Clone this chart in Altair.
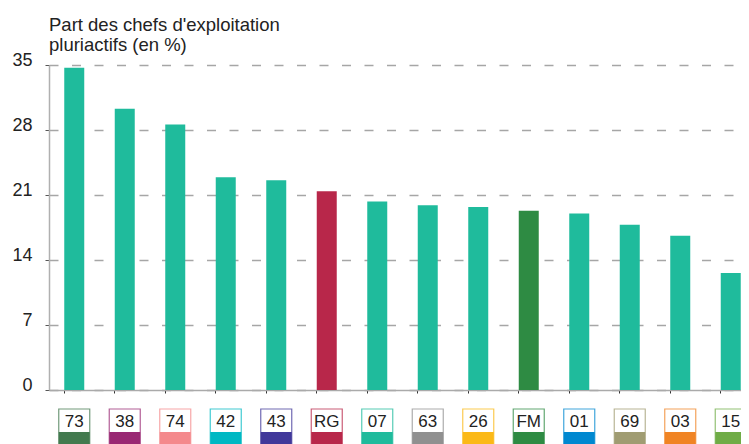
import altair as alt
import pandas as pd

codes = ["73", "38", "74", "42", "43", "RG", "07", "63", "26", "FM", "01", "69", "03", "15"]
values = [34.7, 30.3, 28.6, 22.9, 22.6, 21.4, 20.3, 19.9, 19.7, 19.3, 19.0, 17.8, 16.6, 12.6]
bar_colors = ["#1fbb9c", "#1fbb9c", "#1fbb9c", "#1fbb9c", "#1fbb9c", "#b8274a", "#1fbb9c",
              "#1fbb9c", "#1fbb9c", "#2e8b43", "#1fbb9c", "#1fbb9c", "#1fbb9c", "#1fbb9c"]
stripe_colors = ["#437a4f", "#992873", "#f4898c", "#00b8c3", "#41389a", "#b8274a", "#1fbb9c",
                 "#909090", "#fbb917", "#2e8b43", "#0088d0", "#a09c72", "#f08424", "#6fac46"]
y_ticks = [0, 7, 14, 21, 28, 35]
title_lines = ["Part des chefs d'exploitation", "pluriactifs (en %)"]

df = pd.DataFrame({"code": codes, "value": values, "bar": bar_colors, "stripe": stripe_colors})

FONT = "Liberation Sans"
H = 325

x_enc = alt.X(
    "code:N", sort=codes,
    scale=alt.Scale(range=[0, 707], paddingInner=0.604, paddingOuter=0.302),
    axis=alt.Axis(title=None, labels=False, bandPosition=0, tickSize=3, tickColor="#333",
                  tickWidth=1, domainColor="#aaaaaa", domainWidth=1.5, grid=False),
)

bars = alt.Chart(df).mark_bar().encode(
    x=x_enc,
    y=alt.Y("value:Q", scale=alt.Scale(domain=[0, 35], nice=False),
            axis=alt.Axis(title=None, values=y_ticks, grid=True, gridDash=[9, 13.5],
                          gridColor="#a6a6a6", gridWidth=1.5, domainColor="#b0b0b0",
                          domainWidth=1.5, tickSize=4, tickColor="#555", labelFont=FONT,
                          labelFontSize=18, labelColor="#222", labelPadding=13,
                          labelBaseline="alphabetic")),
    color=alt.Color("bar:N", scale=None),
)

boxes = alt.Chart(df).mark_bar(size=31, fill="white", strokeWidth=1.2, strokeOpacity=0.75).encode(
    x=alt.X("code:N", sort=codes),
    y=alt.value(344),
    y2=alt.value(392),
    stroke=alt.Stroke("stripe:N", scale=None),
)

stripes = alt.Chart(df).mark_bar(size=31).encode(
    x=alt.X("code:N", sort=codes),
    y=alt.value(367),
    y2=alt.value(392),
    color=alt.Color("stripe:N", scale=None),
)

labels = alt.Chart(df).mark_text(font=FONT, fontSize=17, color="#222", baseline="middle").encode(
    x=alt.X("code:N", sort=codes),
    y=alt.value(356.5),
    text="code:N",
)

chart = alt.layer(bars, boxes, stripes, labels).properties(
    width=692, height=H,
    padding={"left": 41, "top": 57, "right": 0, "bottom": 54},
    autosize=alt.AutoSizeParams(type="none"),
    title=alt.TitleParams(text=title_lines, anchor="start", frame="group", font=FONT,
                          fontSize=18.5, fontWeight="normal", color="#222", lineHeight=19.5,
                          offset=-3),
).configure_view(stroke=None)

chart.save("out.html", embed_options={"renderer": "svg", "actions": False})
